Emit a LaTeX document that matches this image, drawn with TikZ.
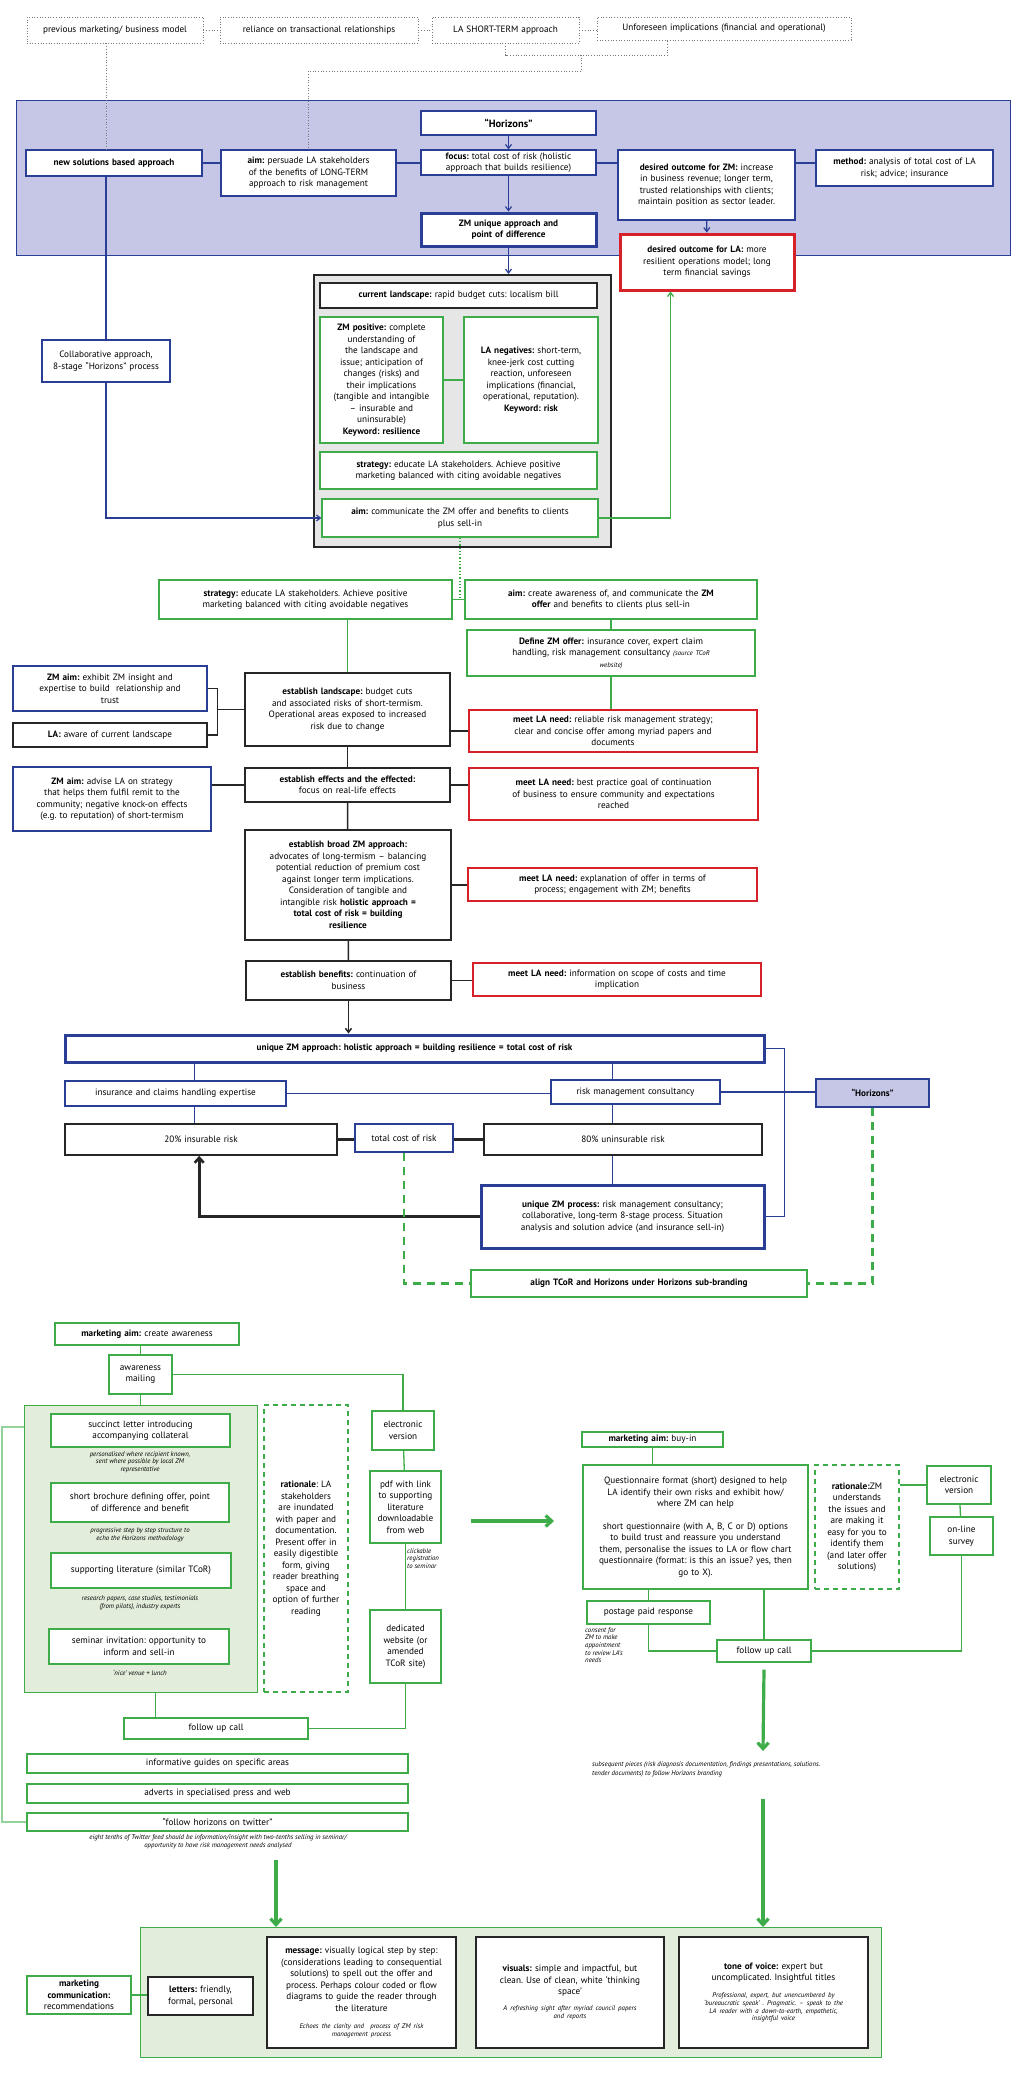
\documentclass[tikz,border=0pt]{standalone}
\usepackage{fontspec}
\setmainfont{PT Sans}
\usetikzlibrary{arrows.meta,positioning}

\definecolor{zmblue}{RGB}{42,62,150}
\definecolor{zmlav}{RGB}{198,199,230}
\definecolor{zmred}{RGB}{214,32,42}
\definecolor{zmgreen}{RGB}{62,172,73}
\definecolor{zmlgreen}{RGB}{226,238,219}
\definecolor{zmgray}{RGB}{230,230,230}
\definecolor{dotgray}{RGB}{120,120,120}
\newcommand{\zmnote}{\fontsize{6.8}{7.7}\selectfont\itshape}
\tikzset{box size/.style 2 args={minimum width=#1, minimum height=#2, text width=#1-6}}
\hyphenpenalty=10000
\exhyphenpenalty=10000
\frenchspacing

\begin{document}
\begin{tikzpicture}[x=1pt, y=-1pt,
  base node/.style={draw, fill=white, align=center, inner sep=2pt, font=\fontsize{9.2}{11.5}\selectfont},
  blue node/.style={base node, draw=zmblue, line width=1.2pt},
  bold blue node/.style={base node, draw=zmblue, line width=3pt},
  red node/.style={base node, draw=zmred, line width=1.4pt},
  bold red node/.style={base node, draw=zmred, line width=3pt},
  black node/.style={base node, draw=black!85, line width=1.6pt},
  green node/.style={base node, draw=zmgreen, line width=1.3pt},
  dot node/.style={base node, draw=dotgray, line width=0.9pt, dash pattern=on 0.9pt off 1.8pt},
  dash node/.style={base node, draw=zmgreen, line width=1.3pt, dash pattern=on 5pt off 4pt},
  panel/.style={draw, line width=1.2pt, anchor=north west, inner sep=0pt},
  note text/.style={align=center, inner sep=0pt, font=\zmnote},
  bold text/.style={font=\fontsize{9.2}{11.5}\selectfont\bfseries},
  dot line/.style={draw=dotgray, line width=0.9pt, dash pattern=on 0.9pt off 1.8pt},
  blue line/.style={draw=zmblue, line width=1.2pt},
  blue arrow/.style={blue line, -{Straight Barb[length=4pt,width=6pt]}},
  green line/.style={draw=zmgreen, line width=1.3pt},
  green arrow/.style={green line, -{Straight Barb[length=4pt,width=6pt]}},
  green dashes/.style={draw=zmgreen, line width=2.6pt, dash pattern=on 8pt off 6pt},
  big arrow/.style={draw=zmgreen, line width=3.2pt, -{Straight Barb[length=6pt,width=11pt]}},
  black line/.style={draw=black!85, line width=1.5pt},
  black arrow/.style={black line, -{Straight Barb[length=4pt,width=6pt]}},
  thick black/.style={draw=black!85, line width=2.6pt}]

  \fill[white] (0,0) rectangle (1012,2073);
  \useasboundingbox (0,0) rectangle (1012,2073);

  % panels
  \filldraw[fill=zmlav, draw=zmblue, line width=1pt] (16,100) rectangle (1010,255);
  \node[panel, draw=black!85, fill=zmgray, line width=1.6pt, minimum width=297, minimum height=272] (grayframe) at (313,274) {};
  \node[panel, draw=zmgreen, fill=zmlgreen, minimum width=233, minimum height=287] (greenpanel) at (24,1405) {};
  \node[panel, draw=zmgreen, fill=zmlgreen, minimum width=741, minimum height=130] (bottompanel) at (140,1927) {};

  % top row
  \node[dot node, box size={176}{26}] (prevmodel) at (115,30) {previous marketing/ business model};
  \node[dot node, box size={198}{26}] (reliance) at (319,30) {reliance on transactional relationships};
  \node[dot node, box size={147}{26}] (lashort) at (505.5,30) {LA SHORT-TERM approach};
  \node[dot node, box size={254}{23}] (unforeseen) at (724,28.5) {Unforeseen implications (financial and operational)};

  % horizons panel
  \node[blue node, line width=2pt, box size={175}{24}, font=\fontsize{10.5}{12}\selectfont\bfseries] (horizons) at (508.5,123) {“Horizons”};
  \node[blue node, box size={176}{26}, bold text] (newsol) at (114,163) {new solutions based approach};
  \node[blue node, box size={175}{46}] (aimLT) at (308.5,173) {\textbf{aim:} persuade LA stakeholders\\of the benefits of LONG-TERM\\approach to risk management};
  \node[blue node, box size={175}{25}] (focus) at (508.5,162.5) {\textbf{focus:} total cost of risk (holistic\\approach that builds resilience)};
  \node[blue node, box size={177}{70}] (outZM) at (706.5,185) {\textbf{desired outcome for ZM:} increase\\in business revenue; longer term,\\trusted relationships with clients;\\maintain position as sector leader.};
  \node[blue node, box size={177}{36}] (method) at (904.5,168) {\textbf{method:} analysis of total cost of LA\\risk; advice; insurance};
  \node[bold blue node, box size={175}{33}, bold text] (zmunique) at (508.5,229.5) {ZM unique approach and\\point of difference};
  \node[bold red node, box size={174}{56}] (outLA) at (707,262) {\textbf{desired outcome for LA:} more\\resilient operations model; long\\term financial savings};

  % landscape frame
  \node[blue node, box size={128}{42}] (collab) at (106,361) {Collaborative approach,\\8-stage “Horizons” process};
  \node[black node, box size={277}{25}] (curland) at (458.5,295.5) {\textbf{current landscape:} rapid budget cuts: localism bill};
  \node[green node, box size={123}{126}] (zmpos) at (381.5,380) {\textbf{ZM positive:} complete\\understanding of\\the landscape and\\issue; anticipation of\\changes (risks) and\\their implications\\(tangible and intangible\\– insurable and\\uninsurable)\\\textbf{Keyword: resilience}};
  \node[green node, box size={134}{126}] (laneg) at (531,380) {\textbf{LA negatives:} short-term,\\knee-jerk cost cutting\\reaction, unforeseen\\implications (financial,\\operational, reputation).\\\textbf{Keyword: risk}};
  \node[green node, box size={277}{37}] (strat1) at (458.5,470.5) {\textbf{strategy:} educate LA stakeholders. Achieve positive\\marketing balanced with citing avoidable negatives};
  \node[green node, box size={276}{38}] (aim1) at (460,518) {\textbf{aim:} communicate the ZM offer and benefits to clients\\plus sell-in};

  % establishing steps
  \node[green node, box size={293}{39}] (strat2) at (305.5,599.5) {\textbf{strategy:} educate LA stakeholders. Achieve positive\\marketing balanced with citing avoidable negatives};
  \node[green node, box size={292}{39}] (aim2) at (611,599.5) {\textbf{aim:} create awareness of, and communicate the \textbf{ZM}\\\textbf{offer} and benefits to clients plus sell-in};
  \node[green node, box size={288}{46}] (define) at (611,653) {\textbf{Define ZM offer:} insurance cover, expert claim\\handling, risk management consultancy {\zmnote(source TCoR}\\{\zmnote website)}};
  \node[black node, box size={205}{73}] (estland) at (347.5,709.5) {\textbf{establish landscape:} budget cuts\\and associated risks of short-termism.\\Operational areas exposed to increased\\risk due to change};
  \node[red node, box size={288}{42}] (meet1) at (613,731) {\textbf{meet LA need:} reliable risk management strategy;\\clear and concise offer among myriad papers and\\documents};
  \node[blue node, box size={194}{45}] (zmaim1) at (110,688.5) {\textbf{ZM aim:} exhibit ZM insight and\\expertise to build\ \ relationship and\\trust};
  \node[black node, box size={194}{24}] (labox) at (110,735) {\textbf{LA:} aware of current landscape};
  \node[black node, box size={205}{34}] (esteff) at (347.5,785) {\textbf{establish effects and the effected:}\\focus on real-life effects};
  \node[blue node, box size={198}{64}] (zmaim2) at (112,799) {\textbf{ZM aim:} advise LA on strategy\\that helps them fulfil remit to the\\community; negative knock-on effects\\(e.g. to reputation) of short-termism};
  \node[red node, box size={289}{52}] (meet2) at (613.5,794) {\textbf{meet LA need:} best practice goal of continuation\\of business to ensure community and expectations\\reached};
  \node[black node, box size={206}{110}] (estbroad) at (348,885) {\textbf{establish broad ZM approach:}\\advocates of long-termism – balancing\\potential reduction of premium cost\\against longer term implications.\\Consideration of tangible and\\intangible risk \textbf{holistic approach =}\\\textbf{total cost of risk = building}\\\textbf{resilience}};
  \node[red node, box size={289}{33}] (meet3) at (612.5,884.5) {\textbf{meet LA need:} explanation of offer in terms of\\process; engagement with ZM; benefits};
  \node[black node, box size={205}{39}] (estben) at (348.5,980.5) {\textbf{establish benefits:} continuation of\\business};
  \node[red node, box size={288}{33}] (meet4) at (617,979.5) {\textbf{meet LA need:} information on scope of costs and time\\implication};

  % unique approach
  \node[bold blue node, box size={699}{27}, bold text] (uzma) at (414.5,1048.5) {unique ZM approach: holistic approach = building resilience = total cost of risk};
  \node[blue node, box size={221}{25}] (insur) at (175.5,1093.5) {insurance and claims handling expertise};
  \node[blue node, box size={169}{24}] (riskmgmt) at (635.5,1092) {risk management consultancy};
  \node[blue node, fill=zmlav, line width=1.6pt, box size={113}{28}, bold text] (hor2) at (872.5,1093) {“Horizons”};
  \node[black node, box size={272}{31}] (pct20) at (201,1139.5) {20\% insurable risk};
  \node[blue node, box size={98}{28}] (tcr) at (404,1138) {total cost of risk};
  \node[black node, box size={278}{31}] (pct80) at (623,1139.5) {80\% uninsurable risk};
  \node[bold blue node, box size={283}{63}] (uzmp) at (622.5,1216.5) {\textbf{unique ZM process:} risk management consultancy;\\collaborative, long-term 8-stage process. Situation\\analysis and solution advice (and insurance sell-in)};
  \node[green node, box size={336}{27}, bold text] (align) at (639,1283.5) {align TCoR and Horizons under Horizons sub-branding};

  % awareness
  \node[green node, box size={184}{22}] (mkaim1) at (147,1334) {\textbf{marketing aim:} create awareness};
  \node[green node, box size={63}{39}] (awmail) at (140.5,1374.5) {awareness\\mailing};
  \node[green node, box size={179}{33}] (succ) at (140.5,1430.5) {succinct letter introducing\\accompanying collateral};
  \node[note text] (succnote) at (140,1462) {personalised where recipient known,\\sent where possible by local ZM\\representative};
  \node[green node, box size={178}{39}] (brochure) at (140,1502.5) {short brochure defining offer, point\\of difference and benefit};
  \node[note text] (brochnote) at (140,1535) {progressive step by step structure to\\echo the Horizons methodology};
  \node[green node, box size={180}{35}] (suplit) at (141,1570.5) {supporting literature (similar TCoR)};
  \node[note text] (litnote) at (140,1603) {research papers, case studies, testimonials\\(from pilots), industry experts};
  \node[green node, box size={180}{35}] (seminar) at (139,1646.5) {seminar invitation: opportunity to\\inform and sell-in};
  \node[note text] (semnote) at (140,1673) {‘nice’ venue + lunch};
  \node[dash node, box size={84}{287}] (ratio1) at (306,1548.5) {\textbf{rationale}: LA\\stakeholders\\are inundated\\with paper and\\documentation.\\Present offer in\\easily digestible\\form, giving\\reader breathing\\space and\\option of further\\reading};
  \node[green node, box size={62}{39}] (elec1) at (403,1430.5) {electronic\\version};
  \node[green node, box size={71}{72}] (pdf) at (405.5,1507) {pdf with link\\to supporting\\literature\\downloadable\\from web};
  \node[note text, anchor=north west, align=left] (clicknote) at (407,1548) {clickable\\registration\\to seminar};
  \node[green node, box size={71}{73}] (dedic) at (405.5,1646.5) {dedicated\\website (or\\amended\\TCoR site)};
  \node[green node, box size={184}{21}] (fup1) at (216,1728.5) {follow up call};
  \node[green node, box size={381}{19}] (guides) at (217.5,1763.5) {informative guides on specific areas};
  \node[green node, box size={381}{19}] (adverts) at (217.5,1793.5) {adverts in specialised press and web};
  \node[green node, box size={381}{18}] (twitter) at (217.5,1822) {“follow horizons on twitter”};
  \node[note text] (twnote) at (218,1842) {eight tenths of Twitter feed should be information/insight with two-tenths selling in seminar/\\opportunity to have risk management needs analysed};

  % buy-in
  \node[green node, box size={141}{15}] (mkaim2) at (652.5,1439.5) {\textbf{marketing aim:} buy-in};
  \node[green node, box size={225}{124}] (quest) at (695.5,1527) {Questionnaire format (short) designed to help\\LA identify their own risks and exhibit how/\\where ZM can help\\[11pt]short questionnaire (with A, B, C or D) options\\to build trust and reassure you understand\\them, personalise the issues to LA or flow chart\\questionnaire (format: is this an issue? yes, then\\go to X).};
  \node[dash node, box size={84}{124}] (ratio2) at (857,1527) {\textbf{rationale:}ZM\\understands\\the issues and\\are making it\\easy for you to\\identify them\\(and later offer\\solutions)};
  \node[green node, box size={64}{38}] (elec2) at (959,1485) {electronic\\version};
  \node[green node, box size={63}{38}] (online) at (961.5,1536) {on-line\\survey};
  \node[green node, box size={123}{23}] (postage) at (648.5,1612.5) {postage paid response};
  \node[note text, anchor=north west, align=left] (consnote) at (585,1627) {consent for\\ZM to make\\appointment\\to review LA’s\\needs};
  \node[green node, box size={94}{22}] (fup2) at (764,1651) {follow up call};
  \node[note text, anchor=north west, align=left, font=\fontsize{6.8}{9}\selectfont\itshape] (subnote) at (592,1761) {subsequent pieces (risk diagnosis documentation, findings presentations, solutions.\\tender documents) to follow Horizons branding};

  % recommendations
  \node[green node, box size={104}{38}] (mkcomm) at (79,1995) {\textbf{marketing}\\\textbf{communication:}\\recommendations};
  \node[black node, box size={105}{38}] (letters) at (200.5,1996) {\textbf{letters:} friendly,\\formal, personal};
  \node[black node, box size={189}{111}] (message) at (361.5,1992.5) {\textbf{message:} visually logical step by step:\\(considerations leading to consequential\\solutions) to spell out the offer and\\process. Perhaps colour coded or flow\\diagrams to guide the reader through\\the literature\par\vspace{10pt}{\zmnote Echoes the clarity and\ \ process of ZM risk\\management process\par}};
  \node[black node, box size={188}{111}] (visuals) at (570,1992.5) {\textbf{visuals:} simple and impactful, but\\clean. Use of clean, white ‘thinking\\space’\par\vspace{8pt}{\zmnote A refreshing sight after myriad council papers\\and reports\par}};
  \node[black node, box size={189}{111}] (tone) at (773.5,1992.5) {\textbf{tone of voice:} expert but\\uncomplicated. Insightful titles\par\vspace{9pt}{\zmnote Professional, expert, but unencumbered by\\‘bureaucratic speak’ . Pragmatic. – speak to the\\LA reader with a down-to-earth, empathetic,\\insightful voice\par}};

  % free arrow ends
  \coordinate (shortjoin) at (581,55);
  \coordinate (bigA) at (471,1521);
  \coordinate (bigB) at (554,1521);
  \coordinate (subA) at (763,1751);
  \coordinate (subB) at (763,1799);
  \coordinate (twarrow) at (276,1860);
  \coordinate (insx) at ([xshift=130]insur.north west);
  \coordinate (insb) at ([xshift=130]insur.south west);
  \coordinate (rmx) at ([xshift=62]riskmgmt.north west);
  \coordinate (fupx) at ([xshift=32]fup1.north west);

  % top dotted links
  \draw[dot line] (prevmodel) -- (reliance);
  \draw[dot line] (reliance) -- (lashort);
  \draw[dot line] (lashort.east) -- (lashort.east -| unforeseen.west);
  \draw[dot line] (lashort.south) -- (lashort.south |- shortjoin) -| ([xshift=71]unforeseen.south west);
  \draw[dot line] (shortjoin) -- ++(0,16) -| (aimLT.north);
  \draw[dot line] (prevmodel.south -| collab.north) -- (newsol.north -| collab.north);

  % horizons links
  \draw[blue line] (newsol.east) -- (newsol.east -| aimLT.west);
  \draw[blue line] (aimLT.east |- newsol.east) -- (focus.west |- newsol.east);
  \draw[blue line] (focus.east |- newsol.east) -- (outZM.west |- newsol.east);
  \draw[blue line] (outZM.east |- newsol.east) -- (method.west |- newsol.east);
  \draw[blue arrow] (horizons) -- (focus);
  \draw[blue arrow] (focus) -- (zmunique);
  \draw[blue arrow] (outZM) -- (outLA);
  \draw[blue arrow] (zmunique.south) -- (zmunique.south |- grayframe.north);
  \draw[blue line] (newsol.south -| collab.north) -- (collab.north);
  \draw[blue arrow] (collab.south) |- (aim1.west);
  \draw[green arrow] (aim1.east) -| ([xshift=52]outLA.south west);
  \draw[green line] (zmpos) -- (laneg);

  % steps
  \draw[green line, dotted] (aim1.south) -- (aim1.south |- strat2.east);
  \draw[green line] (strat2.east) -- (aim2.west);
  \draw[green line] (estland.north |- strat2.south) -- (estland.north);
  \draw[green line] (aim2) -- (define);
  \draw[green line] (define.south) -- (define.south |- meet1.north);
  \draw[black line] (estland.east |- meet1.west) -- (meet1.west);
  \draw[black line] (zmaim1.east) -- ++(10,0) |- (labox.east);
  \draw[black line] ([xshift=10]zmaim1.east) |- (estland.west);
  \draw[black line] (estland) -- (esteff);
  \draw[black line] (zmaim2.east |- esteff.west) -- (esteff.west);
  \draw[black line] (esteff.east) -- (esteff.east -| meet2.west);
  \draw[black line] (esteff) -- (estbroad);
  \draw[black line] (estbroad.east) -- (estbroad.east -| meet3.west);
  \draw[black line] (estbroad) -- (estben);
  \draw[black line] (estben.east) -- (estben.east -| meet4.west);
  \draw[black arrow] (estben.south) -- (estben.south |- uzma.north);

  % approach links
  \draw[blue line] (insx |- uzma.south) -- (insx);
  \draw[blue line] (insb) -- (insb |- pct20.north);
  \draw[blue line] (rmx |- uzma.south) -- (rmx);
  \draw[blue line] (rmx |- riskmgmt.south) -- (rmx |- pct80.north);
  \draw[blue line] (rmx |- pct80.south) -- (rmx |- uzmp.north);
  \draw[blue line] (insur.east) -- (insur.east -| riskmgmt.west);
  \draw[blue line] (riskmgmt.east) -- (riskmgmt.east -| hor2.west);
  \draw[blue line] (uzma.east) -- ++(19,0) |- (uzmp.east);
  \draw[thick black] (pct20.east) -- (pct20.east -| tcr.west);
  \draw[thick black] (tcr.east |- pct80.west) -- (pct80.west);
  \draw[thick black, -{Straight Barb[length=5pt,width=9pt]}] (uzmp.west) -| ([xshift=135]pct20.south west);
  \draw[green dashes] (tcr.south) |- (align.west);
  \draw[green dashes] (hor2.south) |- (align.east);

  % awareness links
  \draw[green line] (awmail.north |- mkaim1.south) -- (awmail.north);
  \draw[green line] (awmail.south) -- (awmail.south |- greenpanel.north);
  \draw[green line] (awmail.east) -| (elec1.north);
  \draw[green line] (elec1) -- (pdf);
  \draw[green line] (pdf) -- (dedic);
  \draw[green line] (fupx |- greenpanel.south) -- (fupx);
  \draw[green line] (dedic.south) |- (fup1.east);
  \draw[green line, draw=zmgreen!55] ([yshift=-22]greenpanel.north west) -- ++(-22,0) |- (twitter.west);
  \draw[big arrow] (bigA) -- (bigB);

  % buy-in links
  \draw[green line] (mkaim2.south) -- (mkaim2.south |- quest.north);
  \draw[green line] (ratio2.east |- elec2.west) -- (elec2.west);
  \draw[green line] (elec2) -- (online);
  \draw[green line] (online.south) |- (fup2.east);
  \draw[green line] (postage.north |- quest.south) -- (postage.north);
  \draw[green line] (postage.south) |- (fup2.west);
  \draw[green line] (fup2.north |- quest.south) -- (fup2.north);
  \draw[big arrow] ([yshift=-7]fup2.south) -- (subA);
  \draw[big arrow] (subB) -- (subB |- bottompanel.north);
  \draw[big arrow] (twarrow) -- (twarrow |- bottompanel.north);
  \draw[green line] (mkcomm.east) -- (mkcomm.east -| letters.west);
\end{tikzpicture}
\end{document}
